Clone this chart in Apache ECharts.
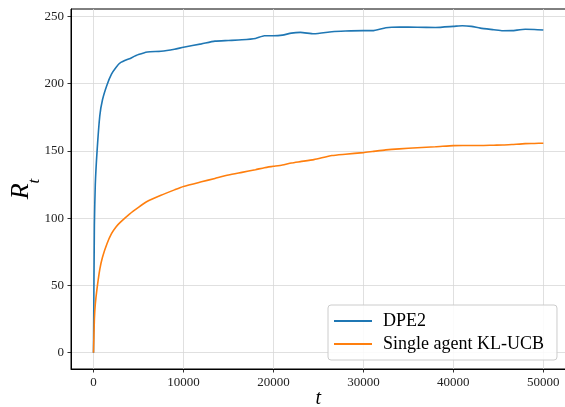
<!DOCTYPE html>
<html>
<head>
<meta charset="utf-8">
<script src="https://cdn.jsdelivr.net/npm/echarts@6/dist/echarts.min.js"></script>
<style>
  html, body { margin: 0; padding: 0; background: #fff; }
  #chart { width: 565px; height: 407px; }
</style>
</head>
<body>
<div id="chart"></div>
<script>
// time steps shared by both curves
const tSteps = [0, 100, 200, 400, 700, 1000, 1500, 2000, 2500, 3000, 4000, 5000, 6000, 7500, 9000,
  10000, 12000, 13500, 15000, 16500, 18000, 19000, 20000, 21000, 22000, 23000, 24500, 26500, 28000,
  30000, 31000, 32500, 34000, 36000, 38000, 40000, 41000, 42000, 43000, 44500, 45500, 46500, 48000,
  49000, 50000];

const dpe2 = [0, 95, 125, 150, 176, 188, 199, 207, 212, 215.5, 218.5, 221.5, 223.5, 224, 225.5,
  227, 229.5, 231.5, 232, 232.5, 233.5, 235.5, 235.5, 236, 237.5, 238, 237, 238.5, 239,
  239.3, 239.3, 241.5, 242, 241.8, 241.7, 242.5, 243, 242.5, 241.2, 240, 239.2, 239.3, 240.3,
  240.2, 239.8];

const klUcb = [0, 25, 36, 48, 62, 71, 81, 88.5, 93.5, 97, 103, 108, 112.5, 117, 121,
  123.5, 127, 129.5, 132, 134, 136, 137.5, 138.5, 139.5, 141, 142, 143.5, 146.5, 147.5,
  148.7, 149.5, 150.7, 151.5, 152.3, 153, 153.9, 154, 154, 154, 154.2, 154.3, 154.7, 155.4,
  155.5, 155.7];

const xTicks = [0, 10000, 20000, 30000, 40000, 50000];
const yTicks = [0, 50, 100, 150, 200, 250];

const seriesNames = ['DPE2', 'Single agent KL-UCB'];
const colors = ['#1f77b4', '#ff7f0e'];

const font = 'Liberation Serif';

const pair = (ys) => tSteps.map((t, i) => [t, ys[i]]);

const chart = echarts.init(document.getElementById('chart'));

const axisCommon = {
  axisLine: { show: true, onZero: false, lineStyle: { color: '#000', width: 1 } },
  axisTick: { show: true, inside: false, length: 3.5, lineStyle: { color: '#000', width: 0.8 } },
  splitLine: { show: true, lineStyle: { color: '#d8d8d8', width: 0.8 } },
  axisLabel: { color: '#222', fontFamily: font, fontSize: 13, margin: 7, formatter: (v) => String(v) },
};

chart.setOption({
  animation: false,
  grid: {
    left: 71, top: 9, width: 494.8, height: 360,
    outerBoundsMode: 'none',
    containLabel: false,
    show: true, borderColor: '#000', borderWidth: 1, backgroundColor: 'transparent',
  },
  xAxis: {
    type: 'value',
    min: -2500,
    max: 52500,
    ...axisCommon,
    axisTick: { ...axisCommon.axisTick, customValues: xTicks },
    axisLabel: { ...axisCommon.axisLabel, customValues: xTicks },
    name: 't',
    nameLocation: 'middle',
    nameGap: 20,
    nameMoveOverlap: false,
    nameTextStyle: { fontFamily: font, fontStyle: 'italic', fontSize: 20, color: '#000' },
  },
  yAxis: {
    type: 'value',
    min: -12.1,
    max: 255.4,
    ...axisCommon,
    axisTick: { ...axisCommon.axisTick, customValues: yTicks },
    axisLabel: { ...axisCommon.axisLabel, customValues: yTicks },
    name: '{r|R}{s|t}',
    nameLocation: 'middle',
    nameRotate: 90,
    nameGap: 28,
    nameMoveOverlap: false,
    nameTextStyle: {
      color: '#000',
      rich: {
        r: { fontFamily: font, fontStyle: 'italic', fontSize: 26, color: '#000', lineHeight: 44, verticalAlign: 'middle' },
        s: { fontFamily: font, fontStyle: 'italic', fontSize: 17, color: '#000', lineHeight: 17, verticalAlign: 'bottom' },
      },
    },
  },
  legend: {
    orient: 'vertical',
    left: 328,
    top: 305,
    padding: [7, 13, 7, 6],
    itemGap: 5,
    itemWidth: 38,
    itemHeight: 2,
    icon: 'rect',
    backgroundColor: 'rgba(255,255,255,0.85)',
    borderColor: '#cccccc',
    borderWidth: 1,
    borderRadius: 3,
    textStyle: { fontFamily: font, fontSize: 18, color: '#000', padding: [0, 0, 0, 6] },
    data: seriesNames,
  },
  series: seriesNames.map((name, i) => ({
    name,
    type: 'line',
    data: pair(i === 0 ? dpe2 : klUcb),
    showSymbol: false,
    smooth: 0.2,
    lineStyle: { color: colors[i], width: 1.6 },
    itemStyle: { color: colors[i] },
  })),
});
</script>
</body>
</html>
